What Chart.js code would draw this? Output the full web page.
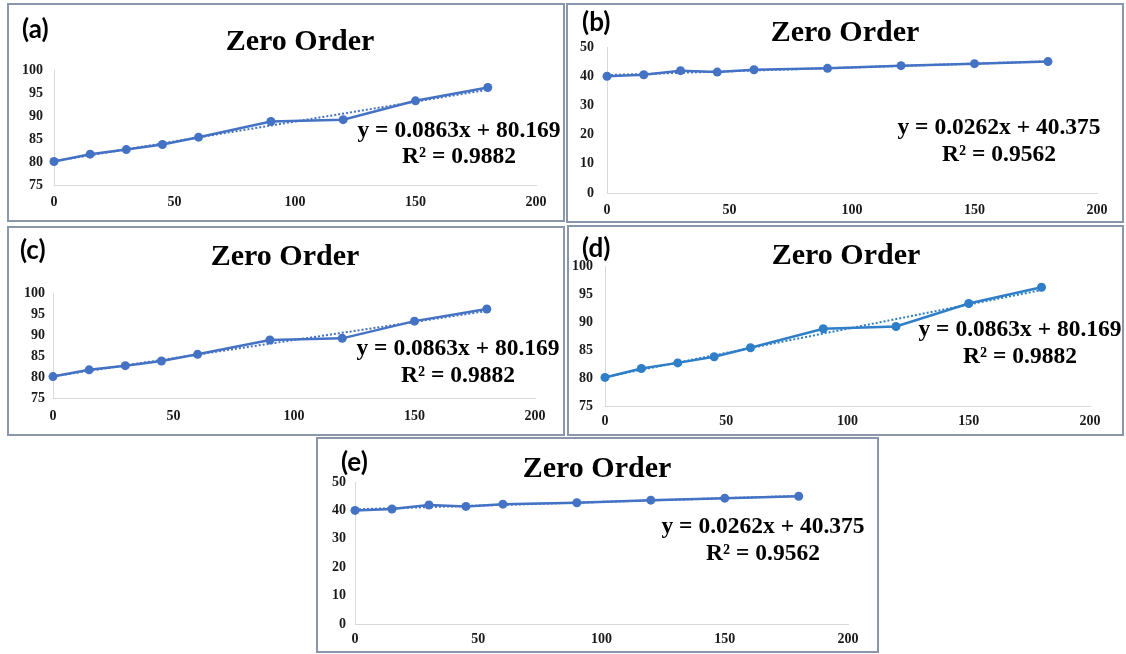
<!DOCTYPE html>
<html>
<head>
<meta charset="utf-8">
<script src="https://cdn.jsdelivr.net/npm/chart.js@4.4.1/dist/chart.umd.min.js"></script>
<style>
  html, body { margin: 0; padding: 0; background: #ffffff; }
  #page { position: relative; width: 1126px; height: 654px; overflow: hidden; background: #ffffff; }
  .frame { position: absolute; box-sizing: border-box; border: 2px solid #8a96aa; background: #ffffff; }
  canvas.layer { position: absolute; left: 0; top: 0; }
</style>
</head>
<body>
<div id="page"></div>
<script>
// Sampling times (min)
const minutes = [0, 15, 30, 45, 60, 90, 120, 150, 180];

// Cumulative release profiles
const releaseHigh = [80.1, 81.7, 82.7, 83.8, 85.4, 88.8, 89.2, 93.3, 96.2];
const releaseLow  = [40.0, 40.5, 41.9, 41.4, 42.2, 42.7, 43.6, 44.3, 45.0];

// Zero-order linear fits as reported on each plot
const fitHigh = { slope: 0.0863, intercept: 80.169, r2: '0.9882' };
const fitLow  = { slope: 0.0262, intercept: 40.375, r2: '0.9562' };

// Axis ticks
const xTicks     = [0, 50, 100, 150, 200];
const yTicksHigh = [75, 80, 85, 90, 95, 100];
const yTicksLow  = [0, 10, 20, 30, 40, 50];

const panelTags = ['(a)', '(b)', '(c)', '(d)', '(e)'];
const chartTitle = 'Zero Order';

const PAGE_W = 1126, PAGE_H = 654;
const Y_W = 50, X_H = 30;
const TICK_FONT = { family: 'Liberation Serif', size: 14, weight: 'bold' };

// Panel placement (page pixels)
const panels = [
  { tag: panelTags[0], values: releaseHigh, fit: fitHigh, yTicks: yTicksHigh, color: '#4472c4',
    frame: [7, 3, 558, 219], area: [54, 70, 536, 185], yPad: 11, xPad: 9,
    title: [300, 42], label: [22, 30], eq: [459, 131, 157] },
  { tag: panelTags[1], values: releaseLow, fit: fitLow, yTicks: yTicksLow, color: '#4472c4',
    frame: [566, 3, 558, 220], area: [607, 47, 1097, 193], yPad: 13, xPad: 9,
    title: [845, 33], label: [582, 23], eq: [999, 128, 155] },
  { tag: panelTags[2], values: releaseHigh, fit: fitHigh, yTicks: yTicksHigh, color: '#4472c4',
    frame: [7, 226, 558, 210], area: [53, 293, 535, 398], yPad: 8, xPad: 10,
    title: [285, 257], label: [20, 251], eq: [458, 349, 376] },
  { tag: panelTags[3], values: releaseHigh, fit: fitHigh, yTicks: yTicksHigh, color: '#2e7ec8',
    frame: [567, 225, 557, 211], area: [605, 266, 1090, 406], yPad: 12, xPad: 7,
    title: [846, 256], label: [582, 249], eq: [1020, 330, 357] },
  { tag: panelTags[4], values: releaseLow, fit: fitLow, yTicks: yTicksLow, color: '#4472c4',
    frame: [316, 437, 563, 216], area: [355, 482, 848, 624], yPad: 9, xPad: 7,
    title: [597, 469], label: [341, 463], eq: [763, 527, 554] }
];

// Title, panel tag and fit equation drawn over each plot
const annotationPlugin = {
  id: 'panelText',
  afterDraw(chart, args, opts) {
    const ctx = chart.ctx;
    ctx.save();
    ctx.fillStyle = '#000000';
    ctx.textBaseline = 'middle';

    ctx.textAlign = 'center';
    ctx.font = 'bold 30px "Liberation Serif"';
    ctx.fillText(chartTitle, opts.title[0], opts.title[1]);

    ctx.textAlign = 'left';
    ctx.font = 'bold 26px Lato';
    ctx.fillText(opts.tag, opts.label[0], opts.label[1]);

    ctx.textAlign = 'center';
    ctx.font = 'bold 23.5px "Liberation Serif"';
    const f = opts.fit;
    ctx.fillText('y = ' + f.slope.toFixed(4) + 'x + ' + f.intercept.toFixed(3), opts.eq[0], opts.eq[1]);
    ctx.fillText('R\u00B2 = ' + f.r2, opts.eq[0], opts.eq[2]);
    ctx.restore();
  }
};

const page = document.getElementById('page');

panels.forEach(p => {
  const fr = document.createElement('div');
  fr.className = 'frame';
  fr.style.left = p.frame[0] + 'px';
  fr.style.top = p.frame[1] + 'px';
  fr.style.width = p.frame[2] + 'px';
  fr.style.height = p.frame[3] + 'px';
  page.appendChild(fr);
});

panels.forEach(p => {
  const cv = document.createElement('canvas');
  cv.className = 'layer';
  cv.width = PAGE_W;
  cv.height = PAGE_H;
  cv.style.width = PAGE_W + 'px';
  cv.style.height = PAGE_H + 'px';
  page.appendChild(cv);

  const points = minutes.map((t, i) => ({ x: t, y: p.values[i] }));
  const tFirst = minutes[0], tLast = minutes[minutes.length - 1];
  const trend = [
    { x: tFirst, y: p.fit.intercept + p.fit.slope * tFirst },
    { x: tLast,  y: p.fit.intercept + p.fit.slope * tLast }
  ];

  const yMin = p.yTicks[0], yMax = p.yTicks[p.yTicks.length - 1];
  const yStep = p.yTicks[1] - p.yTicks[0];

  new Chart(cv, {
    type: 'line',
    data: {
      datasets: [
        { data: trend, borderColor: p.color, borderWidth: 2, borderDash: [2, 2],
          pointRadius: 0, fill: false, tension: 0, order: 0, clip: false },
        { data: points, borderColor: p.color, backgroundColor: p.color, borderWidth: 2.5,
          pointRadius: 4.5, pointBorderWidth: 0, pointBackgroundColor: p.color,
          fill: false, tension: 0, order: 1, clip: false }
      ]
    },
    options: {
      responsive: false,
      animation: false,
      events: [],
      layout: {
        padding: {
          left: p.area[0] - Y_W,
          top: p.area[1],
          right: PAGE_W - p.area[2],
          bottom: PAGE_H - p.area[3] - X_H
        }
      },
      plugins: {
        legend: { display: false },
        tooltip: { enabled: false },
        title: { display: false },
        panelText: { tag: p.tag, fit: p.fit, title: p.title, label: p.label, eq: p.eq }
      },
      scales: {
        x: {
          type: 'linear',
          min: xTicks[0],
          max: xTicks[xTicks.length - 1],
          ticks: { stepSize: xTicks[1] - xTicks[0], padding: p.xPad, font: TICK_FONT, color: '#1a1a1a',
                   maxRotation: 0, autoSkip: false },
          grid: { display: false, drawTicks: false },
          border: { display: true, color: '#d9d9d9', width: 1 },
          afterFit(s) { s.height = X_H; }
        },
        y: {
          type: 'linear',
          min: yMin,
          max: yMax,
          ticks: { stepSize: yStep, padding: p.yPad, font: TICK_FONT, color: '#1a1a1a' },
          grid: { display: false, drawTicks: false },
          border: { display: true, color: '#d9d9d9', width: 1 },
          afterFit(s) { s.width = Y_W; }
        }
      }
    },
    plugins: [annotationPlugin]
  });
});
</script>
</body>
</html>
